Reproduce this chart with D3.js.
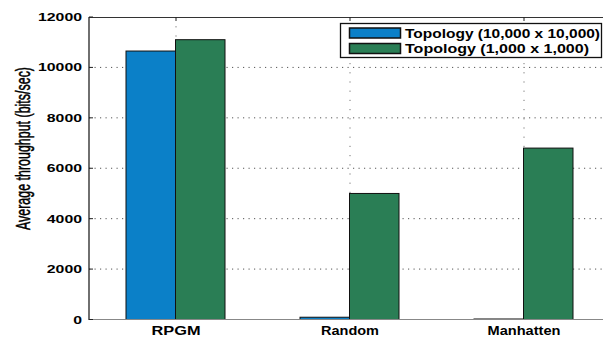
<!DOCTYPE html>
<html><head><meta charset="utf-8">
<script src="https://cdn.jsdelivr.net/npm/d3@7"></script>
<style>body{margin:0;background:#fff}svg{display:block}</style>
</head><body>
<script>
const categories = ["RPGM", "Random", "Manhatten"];
const seriesNames = ["Topology (10,000 x 10,000)", "Topology (1,000 x 1,000)"];
const series1 = [10650, 90, 20];
const series2 = [11100, 5000, 6800];
const yTicks = [0, 2000, 4000, 6000, 8000, 10000, 12000];
const yLabel = "Average throughput (bits/sec)";

const colors = ["#0b80c8", "#2a7e55"];
const W = 603, H = 338;
const svg = d3.select("body").append("svg").attr("width", W).attr("height", H);

const x = d3.scaleBand().domain(categories).range([89, 611]).padding(0);
const y = d3.scaleLinear().domain([0, 12000]).range([319.5, 17]);
const xs = d3.scaleBand().domain(seriesNames).range([-50, 49]);
const font = "'Liberation Sans', Arial, sans-serif";

// grid horizontal
svg.append("g").selectAll("line").data(yTicks.filter(d => d > 0 && d < 12000)).join("line")
  .attr("x1", 89).attr("x2", W).attr("y1", d => y(d)).attr("y2", d => y(d))
  .attr("stroke", "#555").attr("stroke-width", 1).attr("stroke-dasharray", "1.2,4.3");
// grid vertical
svg.append("g").selectAll("line").data(categories).join("line")
  .attr("x1", d => x(d) + x.bandwidth() / 2).attr("x2", d => x(d) + x.bandwidth() / 2)
  .attr("y1", 17).attr("y2", 319.5)
  .attr("stroke", "#777").attr("stroke-width", 1).attr("stroke-dasharray", "1.2,8");

// bars
const data = [];
categories.forEach((c, i) => {
  data.push({c, s: seriesNames[0], v: series1[i], k: 0});
  data.push({c, s: seriesNames[1], v: series2[i], k: 1});
});
svg.append("g").selectAll("rect").data(data).join("rect")
  .attr("x", d => x(d.c) + x.bandwidth() / 2 + xs(d.s))
  .attr("width", xs.bandwidth())
  .attr("y", d => y(d.v))
  .attr("height", d => y(0) - y(d.v))
  .attr("fill", d => colors[d.k])
  .attr("stroke", "#111").attr("stroke-width", 1);

// axes lines
svg.append("line").attr("x1", 89).attr("x2", W).attr("y1", 319.5).attr("y2", 319.5).attr("stroke", "#888").attr("stroke-width", 1.2);
svg.append("line").attr("x1", 89).attr("x2", W).attr("y1", 17.5).attr("y2", 17.5).attr("stroke", "#333").attr("stroke-width", 1);
svg.append("line").attr("x1", 89).attr("x2", 89).attr("y1", 17).attr("y2", 320).attr("stroke", "#222").attr("stroke-width", 1.3);

// top ticks
svg.append("g").selectAll("line").data(categories).join("line")
  .attr("x1", d => x(d) + x.bandwidth() / 2).attr("x2", d => x(d) + x.bandwidth() / 2)
  .attr("y1", 17).attr("y2", 21).attr("stroke", "#222");
// left ticks
svg.append("g").selectAll("line").data(yTicks).join("line")
  .attr("x1", 89).attr("x2", 93).attr("y1", d => y(d)).attr("y2", d => y(d)).attr("stroke", "#222");

// y tick labels
svg.append("g").selectAll("text").data(yTicks).join("text")
  .attr("x", 82).attr("y", d => y(d) + 4)
  .attr("text-anchor", "end")
  .attr("font-family", font).attr("font-weight", "bold").attr("font-size", 11.5)
  .attr("textLength", d => String(d).length * 8.8).attr("lengthAdjust", "spacingAndGlyphs")
  .text(d => d);

// x labels
const xlw = {"RPGM": 49, "Random": 58, "Manhatten": 73};
svg.append("g").selectAll("text").data(categories).join("text")
  .attr("x", d => x(d) + x.bandwidth() / 2 - xlw[d] / 2).attr("y", 335)
  .attr("font-family", font).attr("font-weight", "bold").attr("font-size", 12)
  .attr("textLength", d => xlw[d]).attr("lengthAdjust", "spacingAndGlyphs")
  .text(d => d);

// y label
svg.append("text")
  .attr("transform", "translate(29.5,148.5) scale(1.45,1) rotate(-90)")
  .attr("x", -81.5).attr("y", 0)
  .attr("font-family", font).attr("font-size", 13.5)
  .attr("stroke", "#000").attr("stroke-width", 0.35)
  .attr("textLength", 163).attr("lengthAdjust", "spacingAndGlyphs")
  .text(yLabel);

// legend
const lg = svg.append("g");
lg.append("rect").attr("x", 340.5).attr("y", 23.5).attr("width", 261).attr("height", 34)
  .attr("fill", "#fff").attr("stroke", "#111").attr("stroke-width", 1.3);
const lw = [195, 184];
seriesNames.forEach((s, i) => {
  const cy = 33 + i * 15.5;
  lg.append("rect").attr("x", 349.5).attr("y", cy - 5).attr("width", 51).attr("height", 10)
    .attr("fill", colors[i]).attr("stroke", "#111").attr("stroke-width", 1.5);
  lg.append("text").attr("x", 405).attr("y", cy + 4.5)
    .attr("font-family", font).attr("font-weight", "bold").attr("font-size", 12)
    .attr("textLength", lw[i]).attr("lengthAdjust", "spacingAndGlyphs")
    .text(s);
});
</script>
</body></html>
